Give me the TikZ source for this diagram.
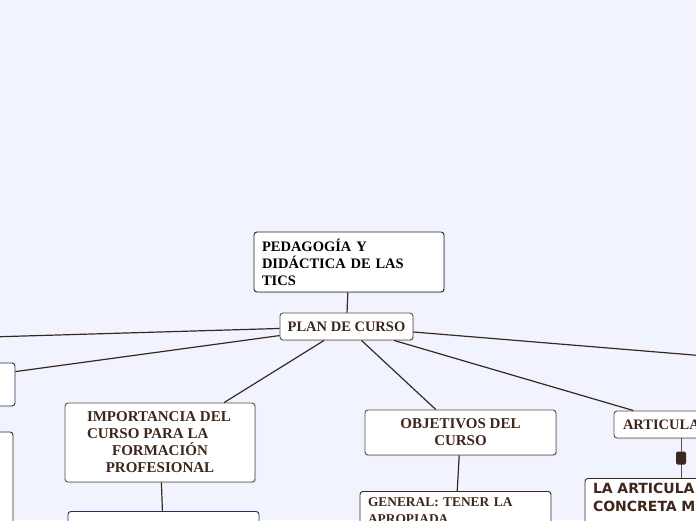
\documentclass[tikz,border=0pt]{standalone}
\usepackage{fontspec}
\setmainfont{Liberation Serif}
\newfontfamily\boxsans{DejaVu Sans}
\usetikzlibrary{shadows}

\definecolor{paper}{RGB}{241,244,254}
\definecolor{ink}{RGB}{62,38,26}
\definecolor{wire}{RGB}{58,40,32}
\definecolor{edge}{RGB}{92,76,68}
\definecolor{navy}{RGB}{30,52,84}

\begin{document}
\begin{tikzpicture}[
  x=1pt, y=-1pt,
  topic/.style={draw=edge,line width=0.9pt,rounded corners=3pt,fill=white,
    text=ink,font=\bfseries\fontsize{14.5}{17}\selectfont,align=center,
    drop shadow={shadow xshift=1pt,shadow yshift=-1pt,opacity=0.25}},
  bigtopic/.style={topic,font=\bfseries\fontsize{15}{17}\selectfont},
  leaf/.style={draw=wire,line width=0.9pt,rounded corners=3pt,fill=white,
    minimum width=191pt,minimum height=60pt},
  navyleaf/.style={leaf,draw=navy},
  link/.style={draw=wire,line width=1.2pt},
  marker/.style={fill=wire,rounded corners=1.5pt,inner sep=0pt,
    minimum width=10pt,minimum height=13pt}
]
  \fill[paper] (0,0) rectangle (696,520);
  \clip (0,0) rectangle (696,520);

  % central nodes
  \node[topic,draw=black!85,text=black,align=left,text width=174pt,
    minimum width=190pt,minimum height=60pt,inner xsep=8pt]
    (title) at (349,262) {PEDAGOGÍA Y\\DIDÁCTICA DE LAS\\TICS};
  \node[topic,minimum width=133pt,minimum height=27pt] (plan) at (346.5,326.5)
    {PLAN DE CURSO};

  % branches
  \node[bigtopic,minimum width=190pt,minimum height=79pt] (importancia) at (160,442.5)
    {\makebox[146pt][l]{IMPORTANCIA DEL}\\\makebox[146pt][l]{CURSO PARA LA}\\
     FORMACIÓN\\PROFESIONAL};
  \node[bigtopic,minimum width=191pt,minimum height=45pt] (objetivos) at (460.5,432.5)
    {OBJETIVOS DEL\\CURSO};
  \node[topic,minimum width=134pt,minimum height=27pt,text width=116pt,
    align=left] (articula) at (681,424.5) {ARTICULA};
  \node[navyleaf,minimum width=190pt,minimum height=43pt] (izq) at (-80,384.5) {};
  \coordinate (izqlejos) at (-200,342.6);
  \coordinate (derlejos) at (900,372);

  % leaves
  \node[leaf,minimum width=190pt,minimum height=120pt] (izqabajo) at (-82,492) {};
  \node[navyleaf,anchor=north] (importanciahijo) at (163.5,511) {};
  \node[leaf,anchor=north,text=ink,align=left,text width=175pt,inner xsep=8pt,
    font=\bfseries\fontsize{13.4}{17}\selectfont,minimum height=0pt,inner ysep=6pt]
    (general) at (455.5,491) {GENERAL: TENER LA\\APROPIADA\\\strut};
  \node[leaf,anchor=north,text=ink,align=left,text width=176pt,inner xsep=8pt,
    minimum width=192pt,font=\boxsans\bfseries\fontsize{14}{18}\selectfont,
    inner ysep=5pt] (concreta) at (681,478) {LA ARTICULA\\CONCRETA M\\\strut};

  % connectors
  \draw[link] (title) -- (plan);
  \draw[link] (plan) -- (izqlejos);
  \draw[link] (plan) -- (izq);
  \draw[link] (plan) -- (importancia);
  \draw[link] (plan) -- (objetivos);
  \draw[link] (plan) -- (articula);
  \draw[link] (plan) -- (derlejos);
  \draw[link] (importancia) -- (importanciahijo);
  \draw[link] (objetivos) -- (general);
  \draw[draw=edge,line width=0.9pt] (articula) -- node[marker] {} (concreta);
\end{tikzpicture}
\end{document}
